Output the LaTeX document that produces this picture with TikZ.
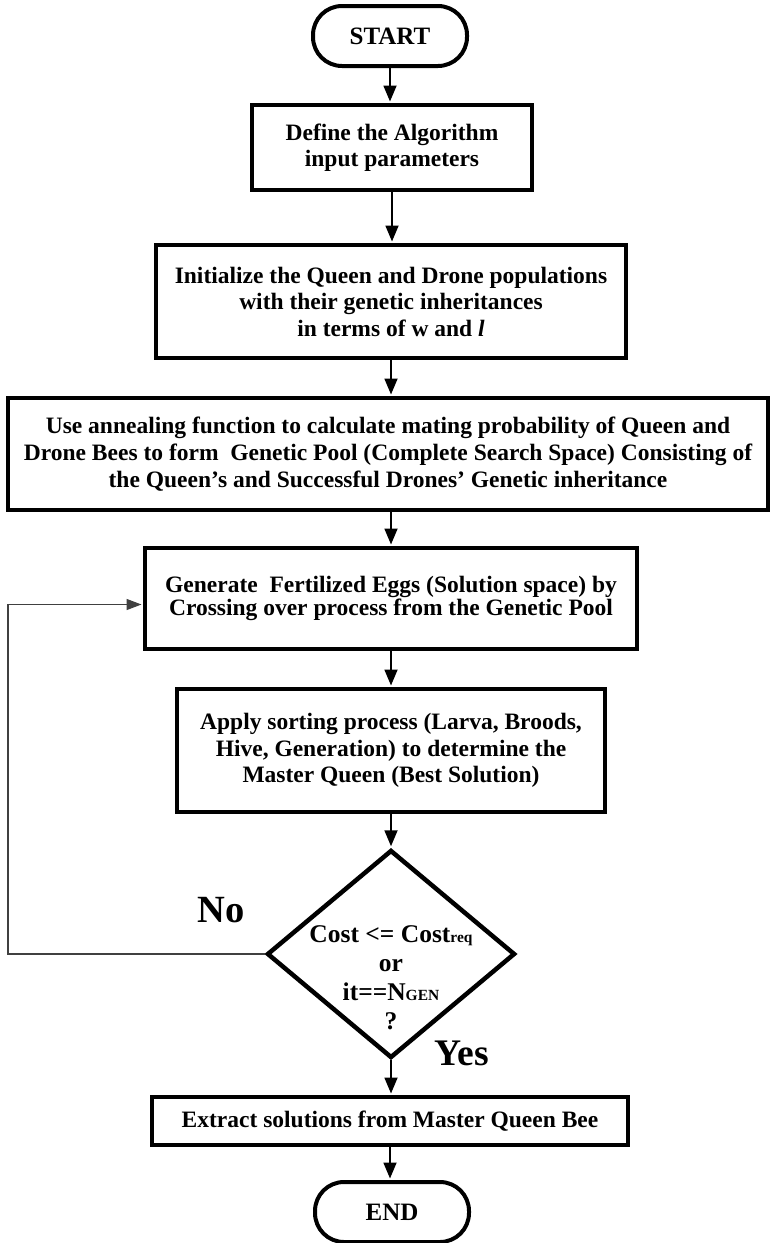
\documentclass[tikz,border=0pt]{standalone}
\usepackage{fontspec}
\setmainfont{Liberation Serif}
\usetikzlibrary{arrows.meta,positioning,shapes.geometric,calc}
\newcommand{\flowfont}{\fontsize{23.5}{26.5}\selectfont\bfseries}
\newcommand{\termfont}{\fontsize{25}{28}\selectfont\bfseries}
\newcommand{\smallsub}[1]{{\fontsize{15.5}{15.5}\selectfont #1}}

\begin{document}
\begin{tikzpicture}[
    x=1pt, y=-1pt,
    proc/.style={draw, line width=4pt, align=center, font=\flowfont, inner sep=0pt},
    term/.style={draw, line width=4pt, rounded corners=29pt, font=\termfont, inner sep=0pt, minimum width=154pt, minimum height=60pt},
    decision/.style={draw, diamond, line width=4.5pt, inner sep=0pt, minimum width=248pt, minimum height=208pt},
    arrow/.style={-{Triangle[length=16pt,width=13pt]}, line width=1.8pt, shorten >=1.5pt},
    loopline/.style={-{Triangle[length=15pt,width=11pt]}, line width=1.4pt, black!75, shorten >=1.5pt},
    answer/.style={font=\fontsize{38.5}{40}\selectfont\bfseries, inner sep=0pt, anchor=base}
  ]
  \useasboundingbox (0,0) rectangle (770,1243);

  \node[term] (start) at (390,36) {START};
  \node[proc, minimum width=280pt, minimum height=85pt] (define) at (392,147.5) {Define the Algorithm\\input parameters};
  \node[proc, minimum width=470pt, minimum height=113pt] (init) at (391,301.5) {Initialize the Queen and Drone populations\\with their genetic inheritances\\in terms of w and \textit{l}};
  \node[proc, minimum width=760pt, minimum height=112pt, font={\fontsize{23.5}{27}\selectfont\bfseries}] (mating) at (388,454) {Use annealing function to calculate mating probability of Queen and\\Drone Bees to form\ \ Genetic Pool (Complete Search Space) Consisting of\\the Queen’s and Successful Drones’ Genetic inheritance};
  \node[proc, minimum width=492pt, minimum height=101pt, font={\fontsize{23.5}{21.5}\selectfont\bfseries}] (eggs) at (391,598.5) {Generate\ \ Fertilized Eggs (Solution space) by\\Crossing over process from the Genetic Pool};
  \node[proc, minimum width=428pt, minimum height=123pt] (sort) at (391,750.5) {Apply sorting process (Larva, Broods,\\Hive, Generation) to determine the\\Master Queen (Best Solution)};
  \node[decision] (check) at (391,954) {};
  \node[font={\fontsize{25.5}{29}\selectfont\bfseries}, align=center, inner sep=0pt] (cond) at (391,978) {Cost <= Cost\smallsub{req}\\or\\it==N\smallsub{GEN}\\?};
  \node[proc, minimum width=476pt, minimum height=48pt] (extract) at (390,1121) {Extract solutions from Master Queen Bee};
  \node[term] (stop) at (392,1212) {END};

  \node[answer] (no) at (221.5,922) {No};
  \node[answer, font=\fontsize{37.5}{39}\selectfont\bfseries] (yes) at (461.5,1065) {Yes};

  % main flow
  \draw[arrow] (start.south) -- (start.south |- define.north);
  \draw[arrow] (define.south) -- (define.south |- init.north);
  \draw[arrow] (init.south) -- (init.south |- mating.north);
  \draw[arrow] (eggs.north |- mating.south) -- (eggs.north);
  \draw[arrow] (eggs.south) -- (eggs.south |- sort.north);
  \draw[arrow] (sort.south) -- (sort.south |- check.north);
  \draw[arrow] (check.south) -- (check.south |- extract.north);
  \draw[arrow] (extract.south) -- (extract.south |- stop.north);

  % back to crossing over
  \coordinate (back) at (8,954);
  \draw[loopline] (check.west) -- (back) |- ([yshift=-6pt]eggs.west);
\end{tikzpicture}
\end{document}
